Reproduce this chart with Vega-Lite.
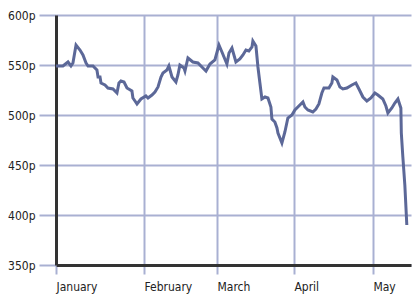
{
  "$schema": "https://vega.github.io/schema/vega-lite/v6.json",
  "autosize": {"type": "none"},
  "padding": {"left": 56, "top": 15, "right": 9, "bottom": 36},
  "width": 355,
  "height": 250,
  "background": "white",
  "config": {
    "view": {"stroke": null},
    "axis": {"labelFont": "Liberation Sans Narrow, DejaVu Sans Condensed, sans-serif", "labelFontSize": 12, "labelColor": "#222"}
  },
  "data": {
    "values": [
      {"date": "2009-01-01T00:00", "price": 549},
      {"date": "2009-01-03T15:00", "price": 549},
      {"date": "2009-01-05T13:00", "price": 553},
      {"date": "2009-01-06T16:00", "price": 549},
      {"date": "2009-01-07T10:00", "price": 552},
      {"date": "2009-01-08T14:00", "price": 570},
      {"date": "2009-01-10T02:00", "price": 565},
      {"date": "2009-01-11T05:00", "price": 560},
      {"date": "2009-01-12T09:00", "price": 552},
      {"date": "2009-01-13T03:00", "price": 549},
      {"date": "2009-01-15T00:00", "price": 549},
      {"date": "2009-01-16T12:00", "price": 545},
      {"date": "2009-01-16T22:00", "price": 538},
      {"date": "2009-01-17T16:00", "price": 538},
      {"date": "2009-01-18T01:00", "price": 532},
      {"date": "2009-01-19T13:00", "price": 530},
      {"date": "2009-01-20T16:00", "price": 527},
      {"date": "2009-01-22T14:00", "price": 526},
      {"date": "2009-01-24T02:00", "price": 522},
      {"date": "2009-01-24T20:00", "price": 532},
      {"date": "2009-01-25T14:00", "price": 534},
      {"date": "2009-01-26T18:00", "price": 533},
      {"date": "2009-01-27T21:00", "price": 527},
      {"date": "2009-01-29T18:00", "price": 524},
      {"date": "2009-01-30T03:00", "price": 517},
      {"date": "2009-01-30T22:00", "price": 514},
      {"date": "2009-01-31T16:00", "price": 511},
      {"date": "2009-02-02T04:00", "price": 516},
      {"date": "2009-02-04T01:00", "price": 519},
      {"date": "2009-02-04T20:00", "price": 517},
      {"date": "2009-02-06T08:00", "price": 520},
      {"date": "2009-02-07T11:00", "price": 523},
      {"date": "2009-02-08T15:00", "price": 528},
      {"date": "2009-02-09T18:00", "price": 538},
      {"date": "2009-02-10T12:00", "price": 542},
      {"date": "2009-02-12T00:00", "price": 545},
      {"date": "2009-02-12T18:00", "price": 549},
      {"date": "2009-02-13T22:00", "price": 538},
      {"date": "2009-02-15T10:00", "price": 533},
      {"date": "2009-02-16T04:00", "price": 540},
      {"date": "2009-02-16T22:00", "price": 550},
      {"date": "2009-02-18T11:00", "price": 547},
      {"date": "2009-02-18T20:00", "price": 544},
      {"date": "2009-02-19T23:00", "price": 557},
      {"date": "2009-02-21T20:00", "price": 553},
      {"date": "2009-02-23T18:00", "price": 552},
      {"date": "2009-02-25T15:00", "price": 547},
      {"date": "2009-02-26T19:00", "price": 544},
      {"date": "2009-02-28T07:00", "price": 551},
      {"date": "2009-03-02T04:00", "price": 555},
      {"date": "2009-03-03T17:00", "price": 570},
      {"date": "2009-03-04T20:00", "price": 563},
      {"date": "2009-03-06T17:00", "price": 551},
      {"date": "2009-03-07T12:00", "price": 562},
      {"date": "2009-03-08T15:00", "price": 567},
      {"date": "2009-03-10T03:00", "price": 553},
      {"date": "2009-03-11T15:00", "price": 556},
      {"date": "2009-03-12T19:00", "price": 560},
      {"date": "2009-03-13T22:00", "price": 565},
      {"date": "2009-03-15T01:00", "price": 564},
      {"date": "2009-03-16T05:00", "price": 568},
      {"date": "2009-03-16T13:00", "price": 574},
      {"date": "2009-03-17T17:00", "price": 569},
      {"date": "2009-03-18T11:00", "price": 548},
      {"date": "2009-03-19T05:00", "price": 532},
      {"date": "2009-03-19T23:00", "price": 516},
      {"date": "2009-03-21T03:00", "price": 518},
      {"date": "2009-03-22T06:00", "price": 517},
      {"date": "2009-03-23T09:00", "price": 508},
      {"date": "2009-03-23T18:00", "price": 496},
      {"date": "2009-03-24T21:00", "price": 493},
      {"date": "2009-03-25T16:00", "price": 487},
      {"date": "2009-03-26T01:00", "price": 482},
      {"date": "2009-03-27T13:00", "price": 472},
      {"date": "2009-03-28T16:00", "price": 483},
      {"date": "2009-03-29T19:00", "price": 497},
      {"date": "2009-03-31T08:00", "price": 500},
      {"date": "2009-04-01T11:00", "price": 505},
      {"date": "2009-04-02T23:00", "price": 509},
      {"date": "2009-04-04T12:00", "price": 513},
      {"date": "2009-04-05T06:00", "price": 508},
      {"date": "2009-04-06T09:00", "price": 505},
      {"date": "2009-04-08T06:00", "price": 503},
      {"date": "2009-04-09T10:00", "price": 506},
      {"date": "2009-04-10T13:00", "price": 511},
      {"date": "2009-04-11T16:00", "price": 522},
      {"date": "2009-04-12T11:00", "price": 527},
      {"date": "2009-04-14T08:00", "price": 527},
      {"date": "2009-04-15T11:00", "price": 532},
      {"date": "2009-04-15T20:00", "price": 538},
      {"date": "2009-04-17T09:00", "price": 535},
      {"date": "2009-04-18T12:00", "price": 528},
      {"date": "2009-04-19T15:00", "price": 526},
      {"date": "2009-04-21T03:00", "price": 527},
      {"date": "2009-04-23T01:00", "price": 530},
      {"date": "2009-04-24T13:00", "price": 532},
      {"date": "2009-04-25T17:00", "price": 526},
      {"date": "2009-04-27T05:00", "price": 518},
      {"date": "2009-04-28T17:00", "price": 514},
      {"date": "2009-04-30T06:00", "price": 517},
      {"date": "2009-05-01T18:00", "price": 522},
      {"date": "2009-05-02T21:00", "price": 520},
      {"date": "2009-05-04T18:00", "price": 516},
      {"date": "2009-05-05T22:00", "price": 509},
      {"date": "2009-05-06T16:00", "price": 502},
      {"date": "2009-05-08T04:00", "price": 507},
      {"date": "2009-05-09T07:00", "price": 512},
      {"date": "2009-05-10T11:00", "price": 516},
      {"date": "2009-05-11T14:00", "price": 507},
      {"date": "2009-05-11T18:00", "price": 482},
      {"date": "2009-05-12T08:00", "price": 458},
      {"date": "2009-05-13T02:00", "price": 430},
      {"date": "2009-05-13T20:00", "price": 390}
    ]
  },
  "mark": {"type": "line", "color": "#5c6898", "strokeWidth": 3, "strokeJoin": "miter", "clip": true},
  "encoding": {
    "x": {
      "field": "date",
      "type": "temporal",
      "scale": {"domain": ["2009-01-01T00:00", "2009-05-15T10:00"]},
      "axis": {
        "title": null,
        "values": [
          {"year": 2009, "month": 1, "date": 1},
          {"year": 2009, "month": 2, "date": 3, "hours": 7, "minutes": 26},
          {"year": 2009, "month": 3, "date": 2, "hours": 22, "minutes": 34},
          {"year": 2009, "month": 4, "date": 1, "hours": 1, "minutes": 55},
          {"year": 2009, "month": 5, "date": 1}
        ],
        "format": "%B",
        "labelAlign": "left",
        "labelBaseline": "top",
        "labelPadding": 7,
        "labelFlush": false,
        "labelOverlap": false,
        "tickSize": 9,
        "tickWidth": 2,
        "tickColor": "#a9b0d2",
        "gridColor": "#a9b0d2",
        "gridWidth": 2,
        "gridOpacity": 1,
        "domainColor": "#333333",
        "domainWidth": 3,
        "zindex": 0
      }
    },
    "y": {
      "field": "price",
      "type": "quantitative",
      "scale": {"domain": [350, 600], "nice": false, "zero": false},
      "axis": {
        "title": null,
        "values": [350, 400, 450, 500, 550, 600],
        "labelExpr": "datum.value + 'p'",
        "tickSize": 17,
        "tickWidth": 2,
        "tickColor": "#a9b0d2",
        "gridColor": "#a9b0d2",
        "gridWidth": 2,
        "gridOpacity": 1,
        "labelPadding": 4,
        "domainColor": "#333333",
        "domainWidth": 3,
        "zindex": 0
      }
    }
  }
}
